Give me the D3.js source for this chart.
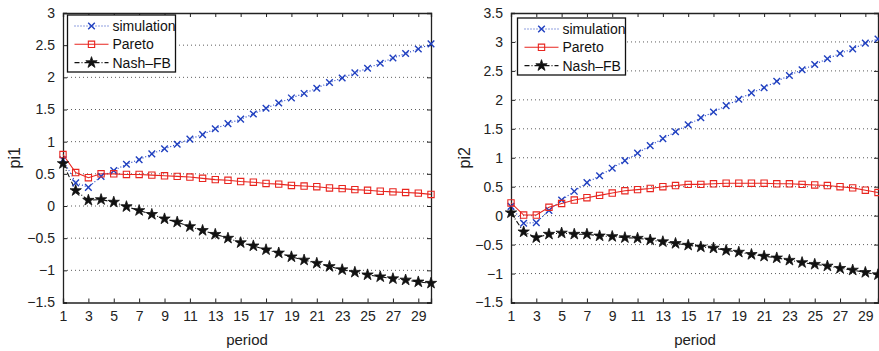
<!DOCTYPE html>
<html>
<head>
<meta charset="utf-8">
<script src="https://cdn.jsdelivr.net/npm/d3@7"></script>
<style>
  html, body { margin: 0; padding: 0; background: #fff; }
  svg { display: block; font-family: "Liberation Sans", Arial, Helvetica, sans-serif; }
</style>
</head>
<body>
<svg id="chart" width="879" height="351"></svg>
<script>
// Periods and tick labels
const periods = d3.range(1, 31);
const xTicks = [1, 3, 5, 7, 9, 11, 13, 15, 17, 19, 21, 23, 25, 27, 29];
const yTicksPi1 = [-1.5, -1, -0.5, 0, 0.5, 1, 1.5, 2, 2.5, 3];
const yTicksPi2 = [-1.5, -1, -0.5, 0, 0.5, 1, 1.5, 2, 2.5, 3, 3.5];

// pi1 series (left panel)
const pi1Simulation = [0.72, 0.36, 0.29, 0.46, 0.55, 0.65, 0.72, 0.81, 0.89, 0.96,
  1.04, 1.11, 1.20, 1.28, 1.35, 1.43, 1.52, 1.60, 1.68, 1.75,
  1.83, 1.92, 1.99, 2.07, 2.14, 2.22, 2.30, 2.37, 2.44, 2.52];
const pi1Pareto = [0.80, 0.52, 0.44, 0.50, 0.50, 0.49, 0.49, 0.48, 0.47, 0.46,
  0.45, 0.43, 0.41, 0.40, 0.38, 0.37, 0.35, 0.34, 0.32, 0.31,
  0.30, 0.28, 0.27, 0.255, 0.245, 0.23, 0.22, 0.21, 0.20, 0.18];
const pi1Nash = [0.66, 0.24, 0.09, 0.10, 0.06, -0.01, -0.07, -0.13, -0.20, -0.25,
  -0.32, -0.38, -0.44, -0.50, -0.57, -0.62, -0.68, -0.73, -0.79, -0.84,
  -0.89, -0.94, -0.99, -1.03, -1.07, -1.10, -1.13, -1.15, -1.18, -1.20];

// pi2 series (right panel)
const pi2Simulation = [0.16, -0.13, -0.12, 0.09, 0.27, 0.42, 0.57, 0.69, 0.82, 0.95,
  1.08, 1.21, 1.33, 1.45, 1.57, 1.69, 1.79, 1.90, 2.01, 2.12,
  2.21, 2.32, 2.42, 2.52, 2.61, 2.71, 2.80, 2.88, 2.98, 3.05];
const pi2Pareto = [0.22, 0.01, 0.01, 0.145, 0.21, 0.27, 0.31, 0.35, 0.39, 0.43,
  0.45, 0.47, 0.50, 0.52, 0.54, 0.54, 0.55, 0.56, 0.56, 0.56,
  0.56, 0.55, 0.55, 0.54, 0.53, 0.52, 0.50, 0.48, 0.44, 0.40];
const pi2Nash = [0.05, -0.28, -0.38, -0.32, -0.30, -0.32, -0.32, -0.35, -0.36, -0.38,
  -0.39, -0.42, -0.45, -0.48, -0.51, -0.54, -0.56, -0.60, -0.63, -0.67,
  -0.70, -0.73, -0.77, -0.81, -0.84, -0.87, -0.91, -0.94, -0.98, -1.02];

const seriesNames = ['simulation', 'Pareto', 'Nash\u2013FB'];

const BLUE = '#2040c0';
const RED = '#e8251f';
const BLACK = '#111';

const svg = d3.select('#chart');

/**
 * Draw one MATLAB-style panel
 */
function drawPanel(opts) {
  const { left, right, top, bottom, yMax, yTicks, yLabel, labelX, periodX, legend, data } = opts;

  const x = d3.scaleLinear().domain([1, 30]).range([left, right]);
  const y = d3.scaleLinear().domain([-1.5, yMax]).range([bottom, top]);

  const g = svg.append('g');

  // Dotted horizontal grid lines (skip the box edges)
  g.selectAll('line.grid')
    .data(yTicks.filter(t => t > -1.5 && t < yMax))
    .enter()
    .append('line')
    .attr('x1', left).attr('x2', right)
    .attr('y1', d => y(d)).attr('y2', d => y(d))
    .attr('stroke', '#333')
    .attr('stroke-width', 0.8)
    .attr('stroke-dasharray', '1,3');

  // Axes with inward ticks on all four sides
  const axisBottom = d3.axisBottom(x).tickValues(xTicks).tickSize(-4).tickPadding(9).tickFormat(d3.format('d'));
  const axisTop = d3.axisTop(x).tickValues(xTicks).tickSize(-4).tickFormat('');
  const axisLeft = d3.axisLeft(y).tickValues(yTicks).tickSize(-4).tickPadding(8)
    .tickFormat(d => d3.format('')(d).replace('-', '\u2212'));
  const axisRight = d3.axisRight(y).tickValues(yTicks).tickSize(-4).tickFormat('');

  [[axisBottom, `translate(0,${bottom})`], [axisTop, `translate(0,${top})`],
   [axisLeft, `translate(${left},0)`], [axisRight, `translate(${right},0)`]].forEach(([ax, tr]) => {
    const a = g.append('g').attr('transform', tr).call(ax);
    a.select('.domain').attr('stroke', '#222').attr('stroke-width', 1.3);
    a.selectAll('.tick line').attr('stroke', '#222');
    a.selectAll('text').attr('font-size', 14).attr('fill', '#222')
      .attr('font-family', '"Liberation Sans", Arial, sans-serif');
  });

  // Axis labels
  g.append('text')
    .attr('x', periodX).attr('y', 345)
    .attr('text-anchor', 'middle')
    .attr('font-size', 15).attr('fill', '#222')
    .text('period');
  g.append('text')
    .attr('transform', `translate(${labelX},${(top + bottom) / 2}) rotate(-90)`)
    .attr('text-anchor', 'middle')
    .attr('font-size', 16).attr('fill', '#222')
    .text(yLabel);

  const line = d3.line().x((d, i) => x(periods[i])).y(d => y(d));

  // simulation: blue dotted with x markers
  g.append('path').datum(data[0]).attr('d', line)
    .attr('fill', 'none').attr('stroke', BLUE).attr('stroke-width', 1.1)
    .attr('stroke-dasharray', '1,2');
  // Pareto: red solid with open squares
  g.append('path').datum(data[1]).attr('d', line)
    .attr('fill', 'none').attr('stroke', RED).attr('stroke-width', 1.1);
  // Nash-FB: black dash-dot with stars
  g.append('path').datum(data[2]).attr('d', line)
    .attr('fill', 'none').attr('stroke', BLACK).attr('stroke-width', 1.1)
    .attr('stroke-dasharray', '5,2,1,2');

  const xMark = d3.symbol().type(d3.symbolX).size(30);
  const sqMark = d3.symbol().type(d3.symbolSquare).size(40);
  const starMark = d3.symbol().type(d3.symbolStar).size(40);

  g.selectAll('path.sim').data(data[0]).enter().append('path')
    .attr('transform', (d, i) => `translate(${x(periods[i])},${y(d)})`)
    .attr('d', xMark).attr('fill', 'none').attr('stroke', BLUE).attr('stroke-width', 1.4);
  g.selectAll('path.par').data(data[1]).enter().append('path')
    .attr('transform', (d, i) => `translate(${x(periods[i])},${y(d)})`)
    .attr('d', sqMark).attr('fill', 'none').attr('stroke', RED).attr('stroke-width', 1.1);
  g.selectAll('path.nash').data(data[2]).enter().append('path')
    .attr('transform', (d, i) => `translate(${x(periods[i])},${y(d)})`)
    .attr('d', starMark).attr('fill', BLACK).attr('stroke', BLACK).attr('stroke-width', 0.8);

  // Legend
  const lg = g.append('g').attr('transform', `translate(${legend.x},${legend.y})`);
  lg.append('rect')
    .attr('width', legend.w).attr('height', legend.h)
    .attr('fill', '#fff').attr('stroke', '#111').attr('stroke-width', 1.3);
  const styles = [
    { color: BLUE, dash: '1,2', mark: xMark, fill: 'none', sw: 1.4 },
    { color: RED, dash: null, mark: sqMark, fill: 'none', sw: 1.1 },
    { color: BLACK, dash: '5,2,1,2', mark: starMark, fill: BLACK, sw: 0.8 }
  ];
  seriesNames.forEach((name, i) => {
    const cy = 11 + i * 18.3;
    const s = styles[i];
    lg.append('line')
      .attr('x1', 7).attr('x2', 41).attr('y1', cy).attr('y2', cy)
      .attr('stroke', s.color).attr('stroke-width', 1.1)
      .attr('stroke-dasharray', s.dash);
    lg.append('path')
      .attr('transform', `translate(24,${cy})`)
      .attr('d', s.mark).attr('fill', s.fill).attr('stroke', s.color).attr('stroke-width', s.sw);
    lg.append('text')
      .attr('x', 45).attr('y', cy + 5)
      .attr('font-size', 14).attr('fill', '#111')
      .text(name);
  });
}

drawPanel({
  left: 63, right: 431, top: 13, bottom: 302.5,
  yMax: 3, yTicks: yTicksPi1, yLabel: 'pi1', labelX: 20, periodX: 247,
  legend: { x: 67.5, y: 15, w: 108, h: 57 },
  data: [pi1Simulation, pi1Pareto, pi1Nash]
});

drawPanel({
  left: 511, right: 878, top: 13, bottom: 302.5,
  yMax: 3.5, yTicks: yTicksPi2, yLabel: 'pi2', labelX: 470, periodX: 695,
  legend: { x: 517.5, y: 18, w: 108, h: 57 },
  data: [pi2Simulation, pi2Pareto, pi2Nash]
});
</script>
</body>
</html>
